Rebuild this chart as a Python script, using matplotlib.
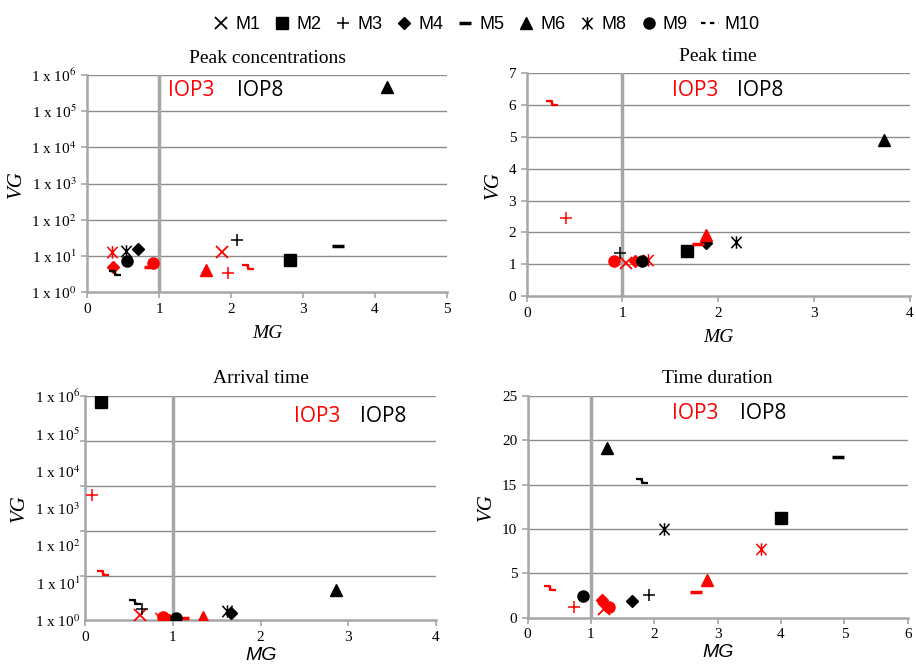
import numpy as np
import matplotlib
matplotlib.use("Agg")
import matplotlib.pyplot as plt
from matplotlib.path import Path
from matplotlib.lines import Line2D

plt.rcParams['font.family'] = ['Liberation Serif', 'DejaVu Serif']
plt.rcParams['mathtext.fontset'] = 'stix'

models = ['M1', 'M2', 'M3', 'M4', 'M5', 'M6', 'M8', 'M9', 'M10']
nan = np.nan

# Peak concentrations
pc_iop3_mg = [1.87, nan, 1.96, 0.36, 0.87, 1.65, 0.35, 0.92, 2.24]
pc_iop3_vg = [12.6, nan, 3.3, 4.9, 4.8, 4.0, 12.6, 6.3, 4.9]
pc_iop8_mg = [nan, 2.82, 2.09, 0.71, 3.48, 4.17, 0.54, 0.56, 0.39]
pc_iop8_vg = [nan, 7.6, 27, 15.4, 18.6, 4.7e5, 13.5, 7.2, 3.3]

# Peak time
pt_iop3_mg = [1.04, nan, 0.41, 1.13, 1.79, 1.87, 1.27, 0.91, 0.26]
pt_iop3_vg = [1.05, nan, 2.45, 1.1, 1.65, 1.92, 1.12, 1.1, 6.05]
pt_iop8_mg = [nan, 1.67, 0.97, 1.87, nan, 3.73, 2.19, 1.2, nan]
pt_iop8_vg = [nan, 1.42, 1.35, 1.67, nan, 4.9, 1.7, 1.1, nan]

# Arrival time
at_iop3_mg = [0.63, nan, 0.08, 0.95, 1.11, 1.34, 0.85, 0.89, 0.2]
at_iop3_vg = [1.4, nan, 2280, 1.0, 1.15, 1.27, 1.15, 1.27, 18.6]
at_iop8_mg = [nan, 0.18, 0.65, 1.66, nan, 2.86, 1.62, 1.04, 0.57]
at_iop8_vg = [nan, 6.9e5, 2.0, 1.56, nan, 6.5, 1.8, 1.15, 3.1]

# Time duration
td_iop3_mg = [1.2, nan, 0.74, 1.17, 2.65, 2.83, 3.68, 1.28, 0.36]
td_iop3_vg = [1.0, nan, 1.25, 2.0, 2.9, 4.3, 7.7, 1.2, 3.4]
td_iop8_mg = [nan, 4.0, 1.92, 1.65, 4.9, 1.25, 2.15, 0.87, 1.8]
td_iop8_vg = [nan, 11.2, 2.55, 1.9, 18.1, 19.1, 10.0, 2.5, 15.4]

# marker for M10: small step-like squiggle
squiggle = Path([(-1, 0.35), (0, 0.35), (0, -0.35), (1, -0.35)],
                [Path.MOVETO, Path.LINETO, Path.LINETO, Path.LINETO])
# marker for M8: X with a vertical bar
star = Path([(-0.9, -1), (0.9, 1), (-0.9, 1), (0.9, -1), (0, -1.1), (0, 1.1)],
            [Path.MOVETO, Path.LINETO, Path.MOVETO, Path.LINETO, Path.MOVETO, Path.LINETO])
mstyle = {
    'M1': dict(marker='x', ms=8, mew=1.3),
    'M2': dict(marker='s', ms=8),
    'M3': dict(marker='+', ms=9, mew=1.1),
    'M4': dict(marker='D', ms=6),
    'M5': dict(marker='_', ms=9, mew=2.5),
    'M6': dict(marker='^', ms=8),
    'M8': dict(marker=star, ms=9, mew=1.1),
    'M9': dict(marker='o', ms=8),
    'M10': dict(marker=squiggle, ms=9, mew=1.6),
}

grid_c = '#8c8c8c'
axis_c = '#a6a6a6'

fig = plt.figure(figsize=(9.16, 6.70), dpi=100)


def setup(ax, title, xmax, mg_family, mg_pad):
    ax.set_title(title, fontsize=14, pad=9)
    for s in ['top', 'right']:
        ax.spines[s].set_visible(False)
    for s in ['left', 'bottom']:
        ax.spines[s].set_color(axis_c)
        ax.spines[s].set_linewidth(1.8)
    ax.tick_params(colors=axis_c, labelcolor='black', labelsize=11, length=4, width=1.2)
    ax.set_xlim(0, xmax)
    ax.set_xticks(range(0, xmax + 1))
    ax.axvline(1, color=axis_c, lw=2.5, zorder=1)
    ax.set_xlabel('MG', fontsize=14, style='italic', family=mg_family, labelpad=mg_pad)
    ax.set_ylabel('VG', fontsize=15, style='italic', labelpad=4)


def draw(ax, mg3, vg3, mg8, vg8):
    for i, m in enumerate(models):
        ax.plot(mg3[i], vg3[i], linestyle='none', color='red', zorder=3, **mstyle[m])
        ax.plot(mg8[i], vg8[i], linestyle='none', color='black', zorder=3, **mstyle[m])


def iop(ax, x3, x8, y):
    ax.text(x3, y, 'IOP3', color='red', fontsize=15, family='Open Sans',
            ha='center', va='center', transform=ax.transAxes)
    ax.text(x8, y, 'IOP8', color='black', fontsize=15, family='Open Sans',
            ha='center', va='center', transform=ax.transAxes)


log_labels = [r'1 x 10$^{%d}$' % k for k in range(7)]

# Peak concentrations
ax1 = fig.add_axes([0.095, 0.564, 0.393, 0.324])
setup(ax1, 'Peak concentrations', 5, ['Liberation Serif'], 7)
ax1.set_yscale('log')
ax1.set_ylim(1, 1e6)
ax1.set_yticks([10.0 ** k for k in range(7)])
ax1.set_yticklabels(log_labels)
ax1.minorticks_off()
for k in range(1, 7):
    ax1.axhline(10.0 ** k, color=grid_c, lw=1, zorder=0)
draw(ax1, pc_iop3_mg, pc_iop3_vg, pc_iop8_mg, pc_iop8_vg)
iop(ax1, 0.29, 0.48, 0.93)

# Peak time
ax2 = fig.add_axes([0.575, 0.558, 0.418, 0.333])
setup(ax2, 'Peak time', 4, ['Liberation Serif'], 7)
ax2.set_ylim(0, 7)
ax2.set_yticks(range(0, 8))
for k in range(1, 8):
    ax2.axhline(k, color=grid_c, lw=1, zorder=0)
draw(ax2, pt_iop3_mg, pt_iop3_vg, pt_iop8_mg, pt_iop8_vg)
iop(ax2, 0.44, 0.61, 0.92)

# Arrival time (labels spread evenly, gridlines at five intervals)
ax3 = fig.add_axes([0.093, 0.074, 0.383, 0.335])
setup(ax3, 'Arrival time', 4, ['Liberation Sans'], 2)
ax3.set_yscale('log')
ax3.set_ylim(1, 1e6)
ax3.set_yticks([10.0 ** k for k in range(7)])
ax3.set_yticklabels(log_labels)
ax3.minorticks_off()
ax3.tick_params(axis='y', length=0)
for g in np.linspace(0, 6, 6)[1:]:
    ax3.axhline(10.0 ** g, color=grid_c, lw=1, zorder=0)
    ax3.plot([-0.05, 0], [10.0 ** g] * 2, color=axis_c, lw=1.2, clip_on=False)
draw(ax3, at_iop3_mg, at_iop3_vg, at_iop8_mg, at_iop8_vg)
iop(ax3, 0.66, 0.85, 0.91)

# Time duration
ax4 = fig.add_axes([0.576, 0.078, 0.415, 0.331])
setup(ax4, 'Time duration', 6, ['Liberation Sans'], 2)
ax4.set_ylim(0, 25)
ax4.set_yticks(range(0, 26, 5))
for k in range(5, 26, 5):
    ax4.axhline(k, color=grid_c, lw=1, zorder=0)
draw(ax4, td_iop3_mg, td_iop3_vg, td_iop8_mg, td_iop8_vg)
iop(ax4, 0.44, 0.62, 0.92)

# legend on top
handles = []
for m in models:
    if m == 'M10':
        handles.append(Line2D([], [], color='black', linestyle=(0, (2, 2)), lw=1.6))
    else:
        handles.append(Line2D([], [], linestyle='none', color='black', **mstyle[m]))
fig.legend(handles, models, loc='upper center', bbox_to_anchor=(0.53, 1.0), ncol=9,
           frameon=False, handlelength=1.0, handletextpad=0.3,
           columnspacing=0.7, prop={'family': 'Liberation Sans', 'size': 13})

fig.savefig('out.png', dpi=100)
